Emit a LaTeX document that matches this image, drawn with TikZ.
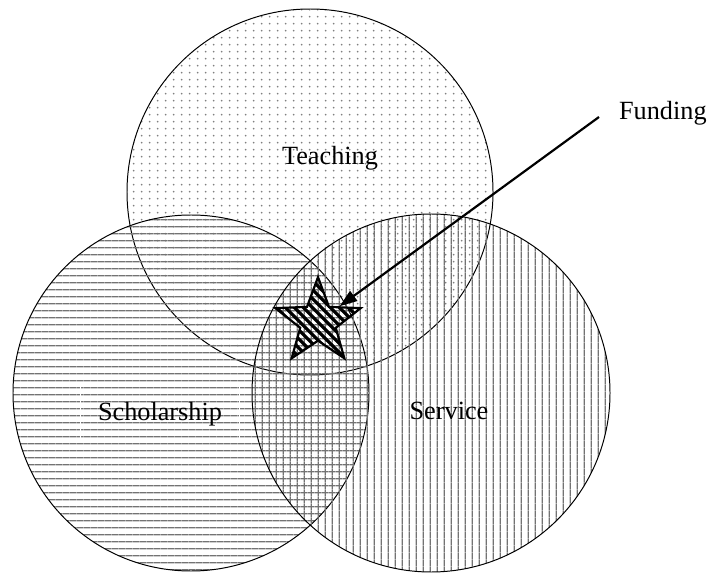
\documentclass[tikz,border=0pt]{standalone}
\usepackage{fontspec}
\setmainfont{Liberation Serif}
\usetikzlibrary{patterns,arrows.meta,shapes.geometric}

% fill patterns of the three areas and of the star
\pgfdeclarepatternformonly{tdots}{\pgfqpoint{0pt}{0pt}}{\pgfqpoint{3.5pt}{3.1pt}}{\pgfqpoint{3.5pt}{3.1pt}}{%
  \pgfpathcircle{\pgfqpoint{1.75pt}{1.55pt}}{0.45pt}\pgfusepath{fill}}
\pgfdeclarepatternformonly{hstripes}{\pgfqpoint{0pt}{0pt}}{\pgfqpoint{3.3pt}{3.3pt}}{\pgfqpoint{3.3pt}{3.3pt}}{%
  \pgfsetlinewidth{0.7pt}\pgfpathmoveto{\pgfqpoint{0pt}{1.65pt}}\pgfpathlineto{\pgfqpoint{3.3pt}{1.65pt}}\pgfusepath{stroke}}
\pgfdeclarepatternformonly{vstripes}{\pgfqpoint{0pt}{0pt}}{\pgfqpoint{3.3pt}{3.3pt}}{\pgfqpoint{3.3pt}{3.3pt}}{%
  \pgfsetlinewidth{0.7pt}\pgfpathmoveto{\pgfqpoint{1.65pt}{0pt}}\pgfpathlineto{\pgfqpoint{1.65pt}{3.3pt}}\pgfusepath{stroke}}
\pgfdeclarepatternformonly{starstripes}{\pgfqpoint{0pt}{0pt}}{\pgfqpoint{4.3pt}{4.3pt}}{\pgfqpoint{4.3pt}{4.3pt}}{%
  \pgfsetlinewidth{1.5pt}%
  \pgfpathmoveto{\pgfqpoint{-0.5pt}{4.8pt}}\pgfpathlineto{\pgfqpoint{4.8pt}{-0.5pt}}%
  \pgfpathmoveto{\pgfqpoint{-1pt}{1pt}}\pgfpathlineto{\pgfqpoint{1pt}{-1pt}}%
  \pgfpathmoveto{\pgfqpoint{3.3pt}{5.3pt}}\pgfpathlineto{\pgfqpoint{5.3pt}{3.3pt}}%
  \pgfusepath{stroke}}

\tikzset{
  area/.style={draw=black, line width=0.45pt},
  label/.style={inner sep=0.75pt, font=\fontsize{12}{14}\selectfont},
}

\begin{document}
\begin{tikzpicture}[x=0.457pt, y=-0.457pt]
\useasboundingbox (0,0) rectangle (709,573);

\draw [area, pattern=tdots, pattern color=gray] (310,192) circle (183);
\draw [area, pattern=hstripes, pattern color=black!55] (191,393) circle (178);
\draw [area, pattern=vstripes, pattern color=black!55] (431,393) circle (179);

\draw (330,158) node [label] (teach) {Teaching};
\draw (160,414) node [label, draw=white, minimum width=73pt, minimum height=26pt] (schol) {Scholarship};
\draw (449,411) node [label] (serv) {Service};
\draw (617,120) node [label, anchor=base west] (fund) {Funding};

\node [star, star points=5, star point ratio=2.4, minimum size=41pt, inner sep=0pt,
       draw=black, line width=1pt, pattern=starstripes, pattern color=black] (star) at (318,322) {};

\coordinate (tail) at (599,117);
\draw [line width=1pt, -{Triangle[length=8pt, width=5.5pt]}] (tail) -- (star);

\end{tikzpicture}
\end{document}
